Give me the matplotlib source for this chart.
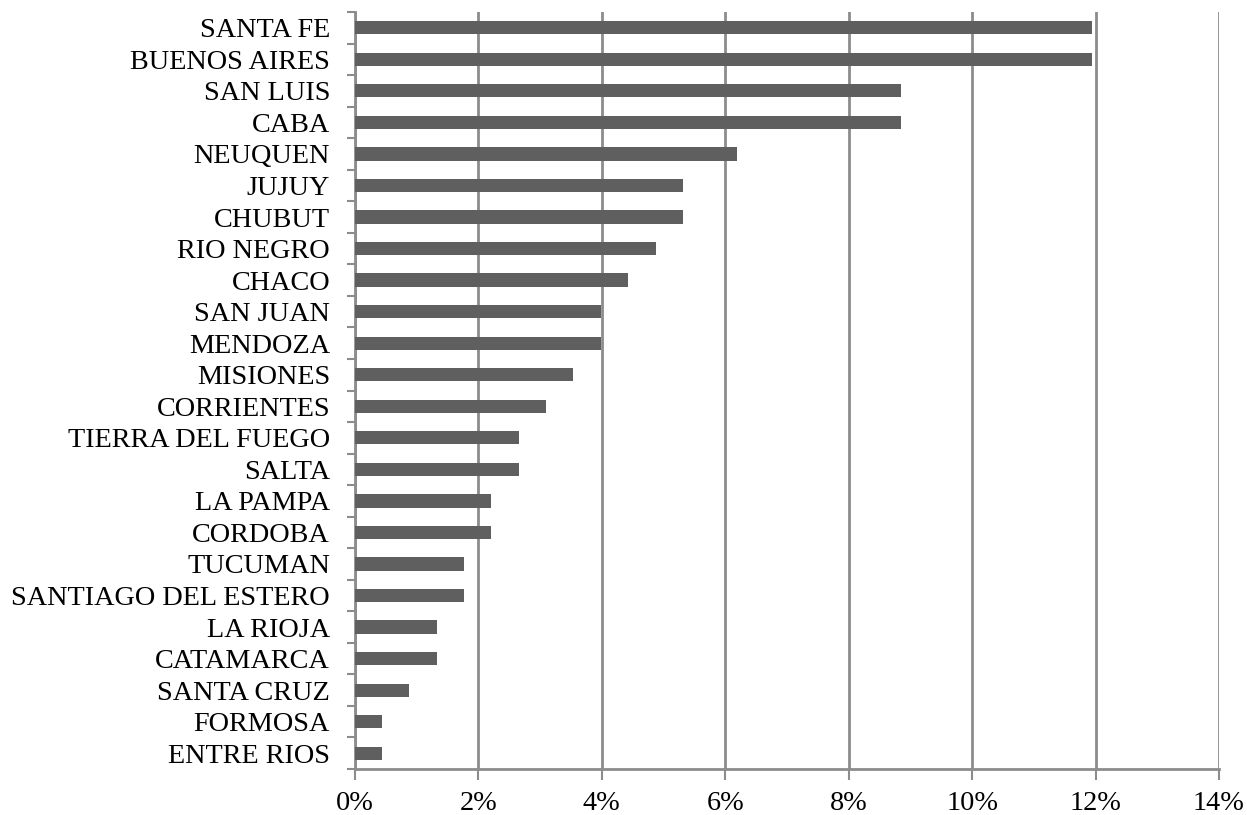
import matplotlib.pyplot as plt
from matplotlib.ticker import PercentFormatter
import numpy as np

provinces = ['SANTA FE', 'BUENOS AIRES', 'SAN LUIS', 'CABA', 'NEUQUEN', 'JUJUY',
             'CHUBUT', 'RIO NEGRO', 'CHACO', 'SAN JUAN', 'MENDOZA', 'MISIONES',
             'CORRIENTES', 'TIERRA DEL FUEGO', 'SALTA', 'LA PAMPA', 'CORDOBA',
             'TUCUMAN', 'SANTIAGO DEL ESTERO', 'LA RIOJA', 'CATAMARCA',
             'SANTA CRUZ', 'FORMOSA', 'ENTRE RIOS']
shares = [11.95, 11.95, 8.85, 8.85, 6.19, 5.31, 5.31, 4.87, 4.42, 3.98, 3.98, 3.54,
          3.10, 2.65, 2.65, 2.21, 2.21, 1.77, 1.77, 1.33, 1.33, 0.88, 0.44, 0.44]

plt.rcParams['font.family'] = ['Liberation Serif', 'DejaVu Serif']

fig = plt.figure(figsize=(12.47, 8.15), dpi=100)
ax = fig.add_axes([0.2847, 0.0564, 0.6928, 0.9289])

y = np.arange(len(provinces))
ax.barh(y, shares, height=0.42, color='#5f5f5f', zorder=3)
ax.set_yticks(y)
ax.set_yticklabels(provinces, fontsize=20.3)
ax.set_ylim(len(provinces) - 0.5, -0.5)

ax.set_xlim(0, 14)
ax.set_xticks(np.arange(0, 15, 2))
ax.xaxis.set_major_formatter(PercentFormatter(decimals=0))
ax.tick_params(axis='x', labelsize=20.3, length=8, width=1.5, color='#8c8c8c', pad=8)
# y ticks sit between bars
ax.set_yticks(np.arange(-0.5, len(provinces), 1), minor=True)
ax.tick_params(axis='y', which='major', length=0, pad=18)
ax.tick_params(axis='y', which='minor', length=6, width=1.5, color='#8c8c8c')

ax.grid(axis='x', color='#8c8c8c', linewidth=2, zorder=0)
for s in ['top', 'right']:
    ax.spines[s].set_visible(False)
for s in ['left', 'bottom']:
    ax.spines[s].set_color('#8c8c8c')
    ax.spines[s].set_linewidth(2)

fig.savefig('out.png', dpi=100)
